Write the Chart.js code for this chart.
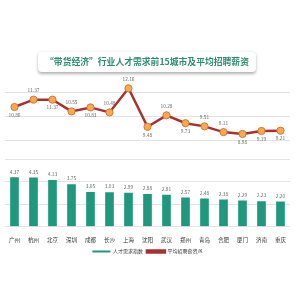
<!DOCTYPE html>
<html><head><meta charset="utf-8">
<script src="https://cdn.jsdelivr.net/npm/chart.js@4/dist/chart.umd.min.js"></script>
<style>
html,body{margin:0;padding:0;background:#fff;}
#wrap{position:relative;width:295px;height:295px;overflow:hidden;}
#title{position:absolute;left:38px;top:52px;width:218px;height:20px;line-height:20px;text-align:center;font-family:"Noto Sans CJK SC";font-weight:bold;font-size:8.8px;color:#2f8c6f;border-radius:4px;box-shadow:0 1.5px 3px rgba(0,0,0,0.3);background:#fff;z-index:2;white-space:nowrap;}
canvas{position:absolute;left:0;top:0;}
</style></head><body>
<div id="wrap"><div id="title">“带货经济”行业人才需求前15城市及平均招聘薪资</div><canvas id="c" width="295" height="295"></canvas></div>
<script>
const cities = ['广州','杭州','北京','深圳','成都','长沙','上海','沈阳','武汉','郑州','青岛','合肥','厦门','济南','重庆'];
const demandIndex = [4.37,4.35,4.13,3.75,3.05,3.03,2.99,2.88,2.81,2.57,2.48,2.38,2.29,2.23,2.20];
const avgSalary = [10.86,11.37,11.37,10.55,10.83,10.48,12.16,9.48,10.28,9.73,9.51,9.11,8.98,9.19,9.21];
const salaryLabelSide = ['below','above','below','above','below','above','above','below','above','below','above','above','below','below','below'];
const seriesNames = ['人才需求指数','平均招聘薪资/K'];
const demandGridTicks = [0,2,4,6];
const salaryGridTicks = [8.55,10.2,11.85];

const TEAL = '#1f987d', RED = '#a8312f', ORANGE = '#f4a953';
const FONT = '"Noto Sans CJK SC", "Noto Sans", sans-serif';

const labelPlugin = {
  id: 'valueLabels',
  afterDatasetsDraw(chart) {
    const ctx = chart.ctx;
    ctx.save();
    ctx.font = '4.8px ' + FONT;
    ctx.fillStyle = '#666';
    ctx.textAlign = 'center';
    ctx.textBaseline = 'middle';
    chart.getDatasetMeta(0).data.forEach((el, i) => {
      ctx.fillText(demandIndex[i].toFixed(2), el.x, el.y - 6);
    });
    chart.getDatasetMeta(1).data.forEach((el, i) => {
      const dy = salaryLabelSide[i] === 'above' ? -9 : 8;
      ctx.fillText(avgSalary[i].toFixed(2), el.x, el.y + dy);
    });
    ctx.restore();
  }
};

new Chart(document.getElementById('c'), {
  data: {
    labels: cities,
    datasets: [
      { type: 'bar', label: seriesNames[0], data: demandIndex, yAxisID: 'yBar',
        backgroundColor: TEAL, borderColor: TEAL, barThickness: 8 },
      { type: 'line', label: seriesNames[1], data: avgSalary, yAxisID: 'yLine',
        borderColor: RED, backgroundColor: RED, borderWidth: 2.5,
        pointBackgroundColor: ORANGE, pointBorderColor: '#d9782e', pointBorderWidth: 1,
        pointRadius: 3.6, tension: 0, fill: false }
    ]
  },
  options: {
    responsive: false, animation: false, devicePixelRatio: 1,
    layout: { padding: { top: 82, left: 0, right: 0, bottom: 31 } },
    scales: {
      x: { type: 'category', offset: true,
        grid: { display: false }, border: { display: false },
        ticks: { font: { size: 5.5, family: FONT }, color: '#333', padding: 2, maxRotation: 0, autoSkip: false } },
      yBar: { type: 'linear', position: 'left', stack: 'main', stackWeight: 69,
        min: 0, max: 6,
        afterBuildTicks: s => { s.ticks = demandGridTicks.map(v => ({ value: v })); },
        grid: { color: '#e4e4e4', lineWidth: 1, drawTicks: false },
        border: { display: false }, ticks: { display: false } },
      yLine: { type: 'linear', position: 'left', stack: 'main', stackWeight: 80,
        min: 7.2, max: 12.6,
        afterBuildTicks: s => { s.ticks = salaryGridTicks.map(v => ({ value: v })); },
        grid: { color: '#e4e4e4', lineWidth: 1, drawTicks: false },
        border: { display: false }, ticks: { display: false } }
    },
    plugins: {
      title: { display: false },
      tooltip: { enabled: false },
      legend: { display: true, position: 'bottom',
        labels: { boxWidth: 18, boxHeight: 2, font: { size: 5, family: FONT }, color: '#333', padding: 4 } }
    }
  },
  plugins: [labelPlugin]
});
</script>
</body></html>
